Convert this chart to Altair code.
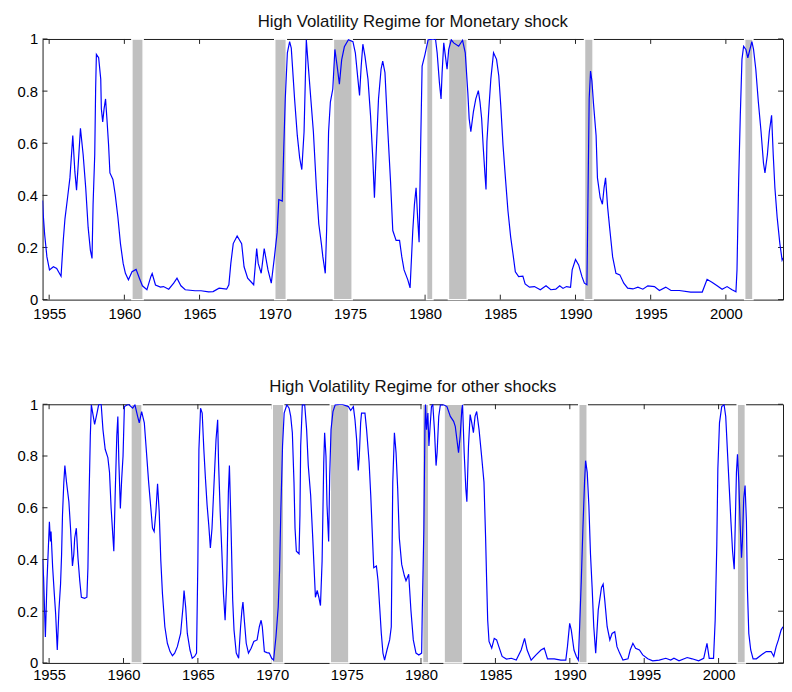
import altair as alt
import pandas as pd

# years shown as tick marks / labels
x_ticks = [1955, 1960, 1965, 1970, 1975, 1980, 1985, 1990, 1995, 2000]
y_ticks = [0, 0.2, 0.4, 0.6, 0.8, 1.0]

# shaded recession periods (start, end)
rec_start = [1960.5, 1970.0, 1973.9, 1980.1, 1981.55, 1990.6, 2001.25]
rec_end = [1961.25, 1970.77, 1975.15, 1980.52, 1982.8, 1991.17, 2001.8]

# high volatility regime probability, monetary shock
mon_year = [1954.56, 1954.6, 1954.7, 1954.85, 1955.02, 1955.28, 1955.5, 1955.79, 1955.94, 1956.05,
            1956.22, 1956.38, 1956.53, 1956.57, 1956.71, 1956.82, 1956.93, 1957.04, 1957.08, 1957.26,
            1957.43, 1957.59, 1957.74, 1957.85, 1957.92, 1958.03, 1958.09, 1958.14, 1958.29, 1958.43,
            1958.47, 1958.56, 1958.65, 1958.75, 1958.84, 1958.95, 1959.04, 1959.24, 1959.39, 1959.57,
            1959.74, 1959.92, 1960.07, 1960.27, 1960.51, 1960.78, 1961.0, 1961.2, 1961.5, 1961.76,
            1961.85, 1962.07, 1962.4, 1962.6, 1962.95, 1963.28, 1963.5, 1963.76, 1964.05, 1964.7,
            1965.1, 1965.6, 1965.9, 1966.3, 1966.8, 1966.95, 1967.08, 1967.24, 1967.5, 1967.8,
            1967.96, 1968.2, 1968.6, 1968.8, 1968.9, 1969.1, 1969.3, 1969.55, 1969.77, 1969.98,
            1970.16, 1970.27, 1970.5, 1970.6, 1970.7, 1970.84, 1970.99, 1971.1, 1971.32, 1971.5,
            1971.66, 1971.8, 1971.95, 1972.03, 1972.1, 1972.2, 1972.4, 1972.57, 1972.77, 1972.93,
            1973.1, 1973.2, 1973.36, 1973.45, 1973.58, 1973.7, 1973.86, 1974.0, 1974.15, 1974.3,
            1974.45, 1974.63, 1974.9, 1975.2, 1975.36, 1975.53, 1975.64, 1975.75, 1975.86, 1976.0,
            1976.2, 1976.37, 1976.52, 1976.63, 1976.74, 1976.9, 1977.07, 1977.18, 1977.33, 1977.5,
            1977.7, 1977.85, 1978.07, 1978.3, 1978.45, 1978.6, 1978.85, 1979.0, 1979.18, 1979.29,
            1979.4, 1979.5, 1979.6, 1979.7, 1979.8, 1979.99, 1980.2, 1980.69, 1980.8, 1980.95,
            1981.06, 1981.13, 1981.24, 1981.35, 1981.46, 1981.57, 1981.74, 1981.9, 1982.23, 1982.49,
            1982.67, 1982.84, 1982.93, 1983.04, 1983.21, 1983.37, 1983.54, 1983.65, 1983.76, 1983.87,
            1983.98, 1984.05, 1984.11, 1984.24, 1984.37, 1984.55, 1984.75, 1984.9, 1985.03, 1985.18,
            1985.34, 1985.51, 1985.69, 1985.84, 1986.0, 1986.22, 1986.5, 1986.65, 1986.94, 1987.27,
            1987.66, 1988.04, 1988.36, 1988.69, 1988.95, 1989.17, 1989.4, 1989.67, 1989.78, 1990.0,
            1990.21, 1990.43, 1990.59, 1990.76, 1990.83, 1990.91, 1991.0, 1991.09, 1991.2, 1991.37,
            1991.46, 1991.64, 1991.79, 1991.9, 1992.0, 1992.14, 1992.29, 1992.47, 1992.69, 1992.95,
            1993.21, 1993.47, 1993.82, 1994.15, 1994.48, 1994.81, 1995.25, 1995.58, 1996.0, 1996.35,
            1996.9, 1997.66, 1998.43, 1998.75, 1999.1, 1999.42, 1999.75, 2000.08, 2000.41, 2000.67,
            2000.74, 2000.85, 2000.96, 2001.07, 2001.18, 2001.33, 2001.46, 2001.62, 2001.73, 2001.84,
            2001.99, 2002.16, 2002.34, 2002.5, 2002.6, 2002.76, 2002.89, 2003.04, 2003.15, 2003.26,
            2003.41, 2003.59, 2003.74, 2003.8]
mon_prob = [0.38, 0.33, 0.25, 0.164, 0.114, 0.126, 0.12, 0.09, 0.23, 0.31,
            0.39, 0.467, 0.594, 0.63, 0.49, 0.42, 0.517, 0.619, 0.657, 0.556,
            0.429, 0.278, 0.19, 0.158, 0.366, 0.556, 0.808, 0.941, 0.928, 0.846,
            0.732, 0.682, 0.732, 0.77, 0.694, 0.594, 0.486, 0.461, 0.404, 0.316,
            0.215, 0.139, 0.101, 0.076, 0.107, 0.116, 0.082, 0.053, 0.038, 0.088,
            0.1, 0.056, 0.048, 0.05, 0.04, 0.063, 0.082, 0.053, 0.038, 0.034,
            0.034, 0.03, 0.031, 0.044, 0.04, 0.057, 0.139, 0.215, 0.244, 0.215,
            0.126, 0.082, 0.057, 0.196, 0.139, 0.101, 0.196, 0.114, 0.063, 0.164,
            0.258, 0.384, 0.378, 0.58, 0.77, 0.947, 0.99, 0.965, 0.77, 0.63,
            0.543, 0.499, 0.644, 0.833, 0.997, 0.92, 0.77, 0.644, 0.429, 0.29,
            0.215, 0.164, 0.101, 0.265, 0.644, 0.758, 0.808, 0.96, 0.896, 0.827,
            0.92, 0.97, 0.997, 0.99, 0.947, 0.846, 0.783, 0.896, 0.98, 0.934,
            0.846, 0.707, 0.543, 0.391, 0.556, 0.77, 0.884, 0.915, 0.871, 0.669,
            0.454, 0.265, 0.227, 0.227, 0.164, 0.114, 0.076, 0.045, 0.265, 0.366,
            0.429, 0.316, 0.22, 0.58, 0.896, 0.94, 0.997, 1.0, 0.947, 0.833,
            0.77, 0.871, 0.985, 0.934, 0.884, 0.96, 0.997, 0.985, 0.972, 0.995,
            0.947, 0.795, 0.694, 0.644, 0.72, 0.77, 0.802, 0.758, 0.694, 0.58,
            0.48, 0.423, 0.606, 0.732, 0.846, 0.947, 0.922, 0.858, 0.745, 0.593,
            0.467, 0.34, 0.24, 0.177, 0.107, 0.088, 0.09, 0.06, 0.048, 0.05,
            0.038, 0.053, 0.038, 0.04, 0.053, 0.043, 0.05, 0.047, 0.114, 0.154,
            0.133, 0.088, 0.063, 0.057, 0.391, 0.77, 0.877, 0.84, 0.75, 0.63,
            0.467, 0.391, 0.366, 0.429, 0.467, 0.353, 0.265, 0.164, 0.101, 0.095,
            0.063, 0.044, 0.041, 0.048, 0.04, 0.053, 0.05, 0.035, 0.048, 0.035,
            0.035, 0.029, 0.029, 0.078, 0.066, 0.053, 0.04, 0.05, 0.038, 0.03,
            0.114, 0.454, 0.707, 0.922, 0.972, 0.96, 0.928, 0.965, 0.99, 0.96,
            0.884, 0.758, 0.644, 0.524, 0.486, 0.556, 0.644, 0.707, 0.556, 0.429,
            0.316, 0.215, 0.152, 0.16]

# high volatility regime probability, other shocks
oth_year = [1954.56, 1954.63, 1954.75, 1954.86, 1954.95, 1955.02, 1955.09, 1955.13, 1955.24, 1955.35,
            1955.44, 1955.55, 1955.66, 1955.77, 1955.84, 1955.9, 1955.99, 1956.06, 1956.17, 1956.33,
            1956.44, 1956.57, 1956.66, 1956.72, 1956.83, 1956.94, 1957.06, 1957.17, 1957.39, 1957.54,
            1957.61, 1957.68, 1957.77, 1957.84, 1957.97, 1958.06, 1958.22, 1958.33, 1958.5, 1958.62,
            1958.77, 1958.95, 1959.06, 1959.17, 1959.28, 1959.35, 1959.44, 1959.55, 1959.62, 1959.69,
            1959.79, 1959.88, 1959.97, 1960.06, 1960.33, 1960.62, 1960.77, 1960.95, 1961.06, 1961.22,
            1961.4, 1961.53, 1961.69, 1961.84, 1961.95, 1962.06, 1962.18, 1962.29, 1962.4, 1962.51,
            1962.62, 1962.78, 1962.95, 1963.13, 1963.29, 1963.44, 1963.62, 1963.84, 1964.0, 1964.07,
            1964.18, 1964.29, 1964.47, 1964.62, 1964.78, 1964.91, 1965.0, 1965.07, 1965.18, 1965.29,
            1965.4, 1965.51, 1965.62, 1965.73, 1965.84, 1965.95, 1966.06, 1966.22, 1966.33, 1966.39,
            1966.5, 1966.61, 1966.72, 1966.83, 1966.94, 1967.05, 1967.12, 1967.23, 1967.34, 1967.43,
            1967.58, 1967.74, 1967.87, 1967.96, 1968.03, 1968.14, 1968.25, 1968.4, 1968.58, 1968.76,
            1968.98, 1969.13, 1969.25, 1969.33, 1969.47, 1969.64, 1969.8, 1969.96, 1970.09, 1970.25,
            1970.4, 1970.49, 1970.58, 1970.69, 1970.8, 1970.98, 1971.13, 1971.24, 1971.35, 1971.46,
            1971.53, 1971.62, 1971.8, 1971.86, 1971.91, 1972.02, 1972.18, 1972.31, 1972.42, 1972.58,
            1972.71, 1972.84, 1972.9, 1973.02, 1973.13, 1973.24, 1973.35, 1973.46, 1973.52, 1973.61,
            1973.68, 1973.79, 1973.86, 1973.95, 1974.08, 1974.23, 1974.68, 1975.12, 1975.27, 1975.45,
            1975.56, 1975.67, 1975.78, 1975.85, 1975.94, 1976.0, 1976.23, 1976.34, 1976.51, 1976.62,
            1976.71, 1976.82, 1977.0, 1977.11, 1977.22, 1977.33, 1977.44, 1977.55, 1977.71, 1977.89,
            1978.0, 1978.1, 1978.21, 1978.32, 1978.43, 1978.54, 1978.7, 1978.88, 1978.99, 1979.17,
            1979.32, 1979.48, 1979.66, 1979.85, 1980.04, 1980.08, 1980.19, 1980.26, 1980.3, 1980.37,
            1980.46, 1980.53, 1980.61, 1980.7, 1980.79, 1980.9, 1981.01, 1981.08, 1981.19, 1981.3,
            1981.52, 1981.74, 1981.97, 1982.19, 1982.3, 1982.41, 1982.52, 1982.63, 1982.74, 1982.79,
            1982.9, 1983.01, 1983.08, 1983.19, 1983.3, 1983.41, 1983.52, 1983.63, 1983.74, 1983.9,
            1984.07, 1984.23, 1984.34, 1984.41, 1984.48, 1984.57, 1984.75, 1984.92, 1985.08, 1985.23,
            1985.45, 1985.74, 1986.07, 1986.4, 1986.73, 1986.96, 1987.13, 1987.4, 1987.73, 1988.06,
            1988.28, 1988.5, 1988.95, 1989.4, 1989.73, 1989.84, 1989.99, 1990.1, 1990.28, 1990.44,
            1990.57, 1990.66, 1990.77, 1990.88, 1990.99, 1991.06, 1991.17, 1991.28, 1991.39, 1991.5,
            1991.61, 1991.74, 1991.91, 1992.13, 1992.24, 1992.35, 1992.51, 1992.69, 1992.84, 1993.02,
            1993.17, 1993.35, 1993.57, 1993.91, 1994.06, 1994.24, 1994.42, 1994.68, 1994.9, 1995.24,
            1995.57, 1996.01, 1996.45, 1996.78, 1997.0, 1997.34, 1997.89, 1998.22, 1998.66, 1999.0,
            1999.22, 1999.37, 1999.66, 1999.77, 1999.88, 1999.95, 2000.06, 2000.21, 2000.37, 2000.48,
            2000.61, 2000.72, 2000.83, 2000.94, 2001.05, 2001.14, 2001.2, 2001.27, 2001.36, 2001.45,
            2001.54, 2001.6, 2001.69, 2001.78, 2001.87, 2001.94, 2002.03, 2002.16, 2002.32, 2002.54,
            2002.87, 2003.2, 2003.53, 2003.71, 2003.87, 2004.02, 2004.2, 2004.33]
oth_prob = [0.4, 0.33, 0.1, 0.32, 0.445, 0.546, 0.47, 0.508, 0.368, 0.267,
            0.19, 0.05, 0.204, 0.305, 0.42, 0.572, 0.699, 0.763, 0.699, 0.623,
            0.521, 0.375, 0.42, 0.483, 0.521, 0.407, 0.318, 0.254, 0.25, 0.254,
            0.368, 0.623, 0.877, 0.998, 0.953, 0.922, 0.966, 0.998, 1.0, 0.902,
            0.826, 0.794, 0.737, 0.597, 0.496, 0.432, 0.648, 0.877, 0.953, 0.775,
            0.597, 0.712, 0.8, 0.991, 1.0, 0.985, 0.998, 0.953, 0.928, 0.972,
            0.928, 0.826, 0.699, 0.597, 0.521, 0.508, 0.585, 0.693, 0.585, 0.394,
            0.267, 0.14, 0.076, 0.044, 0.028, 0.038, 0.063, 0.114, 0.216, 0.28,
            0.216, 0.114, 0.05, 0.018, 0.025, 0.038, 0.394, 0.826, 0.985, 0.966,
            0.826, 0.712, 0.61, 0.534, 0.445, 0.521, 0.661, 0.864, 0.94, 0.775,
            0.585, 0.432, 0.267, 0.165, 0.318, 0.661, 0.763, 0.521, 0.242, 0.127,
            0.038, 0.018, 0.14, 0.204, 0.235, 0.153, 0.076, 0.038, 0.057, 0.083,
            0.089, 0.14, 0.165, 0.14, 0.044, 0.04, 0.038, 0.018, 0.011, 0.102,
            0.216, 0.356, 0.597, 0.839, 0.966, 0.998, 0.985, 0.953, 0.89, 0.699,
            0.521, 0.432, 0.422, 0.572, 0.839, 0.998, 0.998, 0.902, 0.763, 0.648,
            0.496, 0.331, 0.254, 0.28, 0.254, 0.222, 0.394, 0.775, 0.89, 0.8,
            0.61, 0.47, 0.724, 0.902, 0.972, 0.998, 1.0, 0.991, 0.976, 0.991,
            0.94, 0.864, 0.744, 0.8, 0.928, 0.966, 0.966, 0.902, 0.775, 0.648,
            0.521, 0.368, 0.375, 0.318, 0.216, 0.114, 0.038, 0.011, 0.05, 0.089,
            0.14, 0.699, 0.89, 0.813, 0.674, 0.483, 0.381, 0.337, 0.318, 0.343,
            0.204, 0.089, 0.038, 0.031, 0.038, 0.19, 0.521, 0.902, 1.0, 0.902,
            0.966, 0.839, 0.915, 0.991, 1.0, 0.902, 0.763, 0.813, 0.953, 0.998,
            0.998, 0.991, 0.953, 0.934, 0.915, 0.864, 0.813, 0.877, 0.979, 0.998,
            0.813, 0.674, 0.623, 0.839, 0.96, 0.928, 0.89, 0.953, 0.972, 0.902,
            0.8, 0.699, 0.483, 0.318, 0.165, 0.083, 0.057, 0.095, 0.089, 0.063,
            0.025, 0.015, 0.018, 0.011, 0.05, 0.095, 0.05, 0.011, 0.031, 0.05,
            0.057, 0.016, 0.016, 0.011, 0.011, 0.063, 0.153, 0.127, 0.05, 0.025,
            0.011, 0.14, 0.318, 0.521, 0.699, 0.782, 0.737, 0.61, 0.42, 0.292,
            0.14, 0.038, 0.204, 0.292, 0.305, 0.242, 0.14, 0.089, 0.114, 0.121,
            0.063, 0.038, 0.011, 0.016, 0.05, 0.076, 0.057, 0.05, 0.031, 0.016,
            0.008, 0.011, 0.018, 0.011, 0.018, 0.008, 0.021, 0.016, 0.008, 0.018,
            0.076, 0.018, 0.018, 0.165, 0.457, 0.75, 0.928, 0.991, 0.998, 0.953,
            0.8, 0.674, 0.546, 0.432, 0.362, 0.585, 0.737, 0.807, 0.699, 0.534,
            0.407, 0.47, 0.636, 0.686, 0.546, 0.28, 0.114, 0.05, 0.016, 0.016,
            0.031, 0.044, 0.044, 0.025, 0.063, 0.089, 0.127, 0.14]

FONT = "Liberation Sans"
W = 750
X_START = 1954.56


def panel(years, probs, title, x_end, h, pad_x):
    xs = alt.Scale(domain=[X_START, x_end], nice=False, zero=False)
    ys = alt.Scale(domain=[0, 1], nice=False, zero=False)
    ax_x = alt.Axis(values=x_ticks, format="d", ticks=False, domain=False, grid=False,
                    labelFlush=False, labelPadding=pad_x)
    ax_y = alt.Axis(values=y_ticks, format="~g", ticks=False, domain=False, grid=False,
                    labelPadding=5)
    df = pd.DataFrame({"year": years, "p": probs})
    bands = pd.DataFrame({"year": rec_start, "year_end": rec_end})
    xt = pd.DataFrame({"year": x_ticks})
    yt = pd.DataFrame({"p": y_ticks})
    X = alt.X("year:Q", scale=xs, axis=ax_x, title="")
    Y = alt.Y("p:Q", scale=ys, axis=ax_y, title="")

    # inward MATLAB-style ticks on all four sides
    tick_top = alt.Chart(xt).mark_rule(color="#222", strokeWidth=1).encode(
        x=X, y=alt.value(0), y2=alt.value(5))
    tick_bot = alt.Chart(xt).mark_rule(color="#222", strokeWidth=1).encode(
        x=X, y=alt.value(h - 5), y2=alt.value(h))
    tick_left = alt.Chart(yt).mark_rule(color="#222", strokeWidth=1).encode(
        y=Y, x=alt.value(0), x2=alt.value(5))
    tick_right = alt.Chart(yt).mark_rule(color="#222", strokeWidth=1).encode(
        y=Y, x=alt.value(W - 5), x2=alt.value(W))

    shade = alt.Chart(bands).mark_rect(color="#c0c0c0", stroke="white", strokeWidth=1.5).encode(
        x=X, x2="year_end:Q", y=alt.value(0), y2=alt.value(h))

    line = alt.Chart(df).mark_line(color="#0000ff", strokeWidth=1.2, clip=True).encode(
        x=X, y=Y)

    return alt.layer(tick_top, tick_bot, tick_left, tick_right, shade, line).properties(
        width=W, height=h,
        title=alt.TitleParams(title, fontSize=17, font=FONT, fontWeight="normal",
                              color="#111", anchor="middle", frame="group",
                              baseline="alphabetic", offset=-12))


top = panel(mon_year, mon_prob, "High Volatility Regime for Monetary shock", 2003.8, 264, 7)
bottom = panel(oth_year, oth_prob, "High Volatility Regime for other shocks", 2004.33, 262, 5)

chart = alt.vconcat(top, bottom, spacing=56).properties(
    padding={"left": 8, "top": 0, "right": 0, "bottom": 0}
).configure_view(
    stroke="#1a1a1a", strokeWidth=1
).configure_axis(
    labelFont=FONT, labelFontSize=15, labelColor="#000"
)

chart.save("out.html", embed_options={"renderer": "svg", "actions": False})
